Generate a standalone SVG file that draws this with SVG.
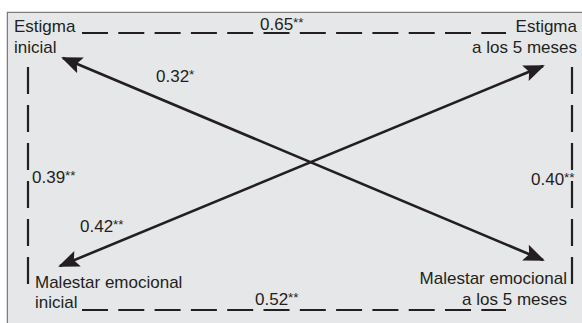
<svg xmlns="http://www.w3.org/2000/svg" width="582" height="323" viewBox="0 0 582 323">
<style>
.t{font-family:"Liberation Sans",Arial,sans-serif;font-size:17px;fill:#231f20}
.s{font-size:13.5px}
.d{stroke:#231f20;stroke-width:2.2;fill:none}
.h{stroke-dasharray:26 10.3}
.v{stroke-dasharray:27 11}
.a{stroke:#231f20;stroke-width:2.6;fill:none;marker-start:url(#ah);marker-end:url(#ah)}
</style>
<defs>
<marker id="ah" markerUnits="userSpaceOnUse" markerWidth="24" markerHeight="20" viewBox="0 -10 24 20" refX="19" refY="0" orient="auto-start-reverse">
<path d="M0,-8.5 L21,0 L0,8.5 L4,0 Z" fill="#231f20"/>
</marker>
</defs>
<rect x="0" y="0" width="582" height="323" fill="#ffffff"/>
<path d="M7.5,323 V12.5 H582" fill="#e6e7e9" stroke="#7d7d7d" stroke-width="1.5"/>
<rect x="8" y="13" width="574" height="310" fill="#e6e7e9"/>
<g id="connectors">
<line id="top" class="d h" x1="82" y1="33" x2="506" y2="33"/>
<line id="bottom" class="d h" x1="82" y1="310" x2="506" y2="310"/>
<line id="left" class="d v" x1="28" y1="67" x2="28" y2="285"/>
<line id="right" class="d v" x1="572" y1="67" x2="572" y2="285"/>
<line id="diag1" class="a" x1="63" y1="58" x2="543" y2="260"/>
<line id="diag2" class="a" x1="60" y1="266" x2="543" y2="66"/>
</g>
<g id="n-estigma-inicial">
<text class="t" x="14" y="32">Estigma</text>
<text class="t" x="14" y="53">inicial</text>
</g>
<g id="n-estigma-5">
<text class="t" x="577" y="32" text-anchor="end">Estigma</text>
<text class="t" x="577" y="53" text-anchor="end">a los 5 meses</text>
</g>
<g id="n-malestar-inicial">
<text class="t" x="35" y="288">Malestar emocional</text>
<text class="t" x="35" y="308">inicial</text>
</g>
<g id="n-malestar-5">
<text class="t" x="567" y="284" text-anchor="end">Malestar emocional</text>
<text class="t" x="567" y="305" text-anchor="end">a los 5 meses</text>
</g>
<g id="labels">
<text class="t" x="260" y="30">0.65<tspan class="s" dy="-3">**</tspan></text>
<text class="t" x="156" y="82">0.32<tspan class="s" dy="-3">*</tspan></text>
<text class="t" x="32" y="183">0.39<tspan class="s" dy="-3">**</tspan></text>
<text class="t" x="531" y="185">0.40<tspan class="s" dy="-3">**</tspan></text>
<text class="t" x="80" y="232">0.42<tspan class="s" dy="-3">**</tspan></text>
<text class="t" x="255" y="305">0.52<tspan class="s" dy="-3">**</tspan></text>
</g>
</svg>
